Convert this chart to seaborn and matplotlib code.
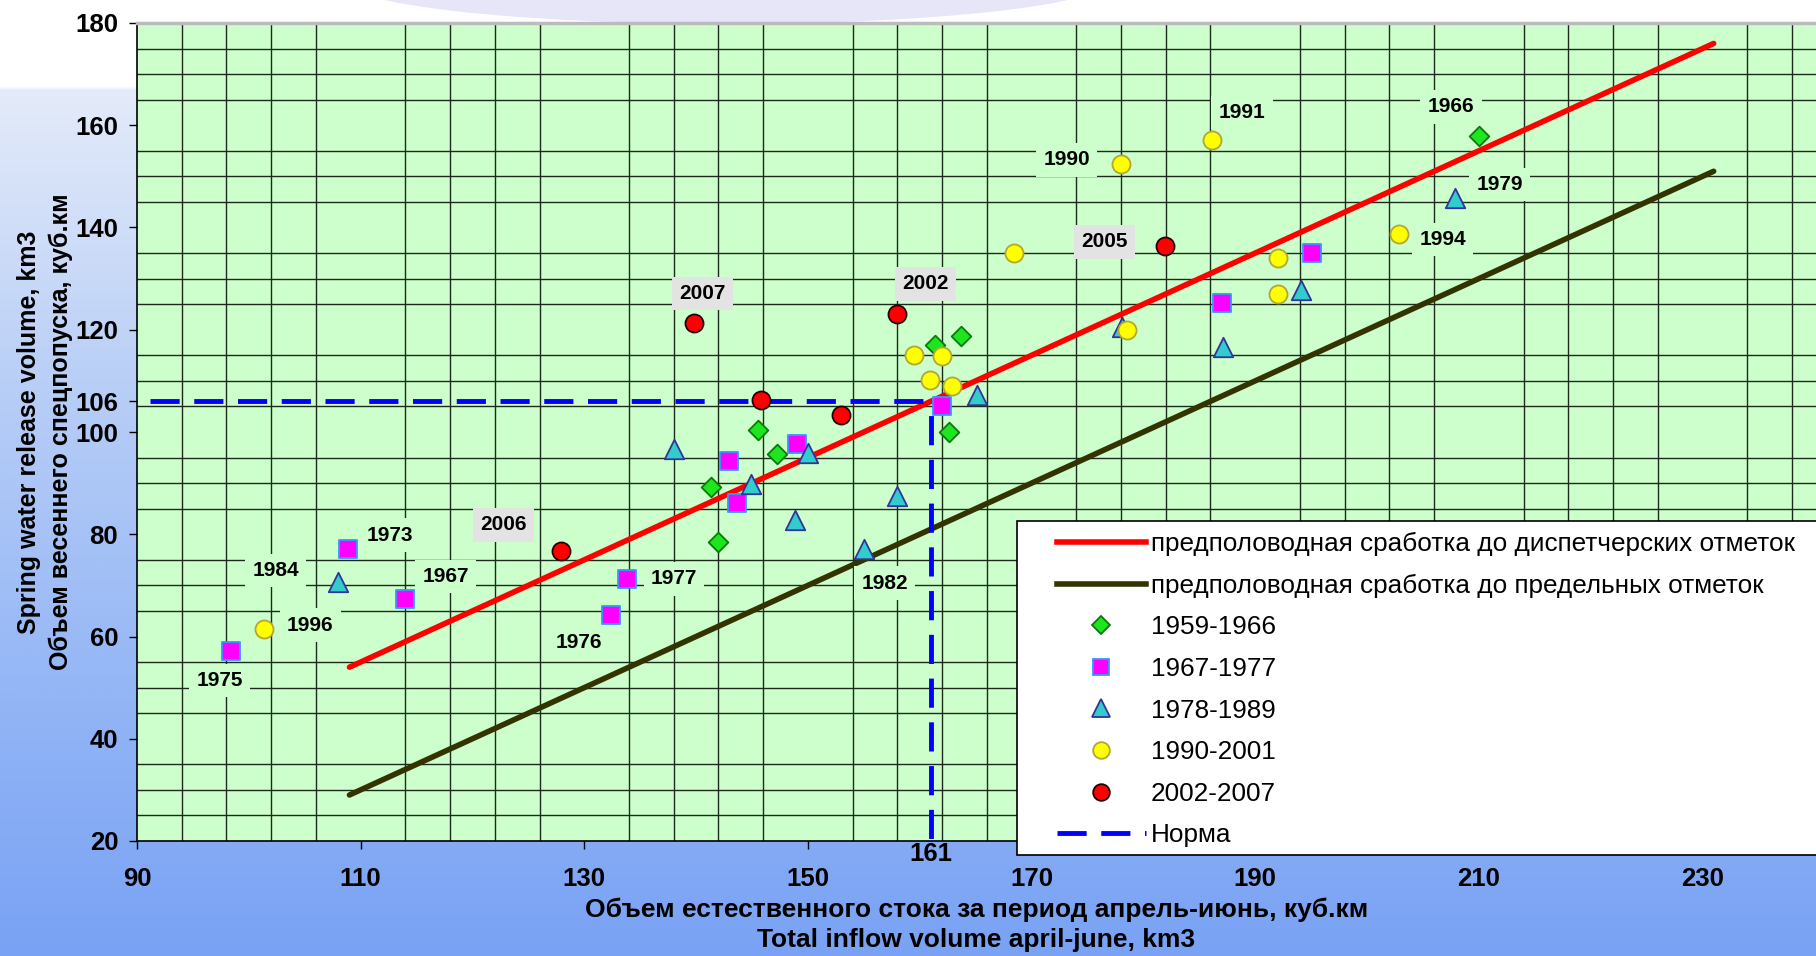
import numpy as np
import matplotlib
matplotlib.use("Agg")
import matplotlib.pyplot as plt
from matplotlib.lines import Line2D
from matplotlib.patches import Rectangle, Ellipse
from matplotlib.colors import to_rgb
import seaborn as sns

plt.rcParams['font.family'] = ['Liberation Sans', 'DejaVu Sans']

# ---- observed points: inflow (x, km3) vs. spring release (y, km3) ----
diam_x = [141.3, 142.0, 145.5, 147.2, 161.4, 162.6, 163.7, 210.0]
diam_y = [89.2, 78.5, 100.4, 95.6, 117.0, 100.0, 118.8, 157.9]
diam_year = ['', '', '', '', '', '', '', '1966']

sq_x = [98.4, 108.9, 114.0, 132.4, 133.8, 142.9, 143.7, 149.0, 162.0, 187.0, 195.1]
sq_y = [57.1, 77.1, 67.4, 64.3, 71.3, 94.4, 86.1, 97.6, 105.0, 125.3, 135.1]
sq_year = ['1975', '1973', '1967', '1976', '1977', '', '', '', '', '', '']

tri_x = [108.0, 138.0, 144.9, 148.8, 150.0, 155.0, 158.0, 165.1, 178.1, 187.1, 194.1, 207.9]
tri_y = [70.7, 96.6, 89.8, 82.7, 95.9, 77.2, 87.4, 107.3, 120.6, 116.7, 127.8, 145.7]
tri_year = ['1984', '', '', '', '', '1982', '', '', '', '', '', '1979']

yel_x = [101.4, 159.5, 160.9, 162.0, 162.9, 168.4, 178.0, 178.5, 186.1, 192.0, 192.0, 202.9]
yel_y = [61.4, 115.1, 110.1, 114.8, 108.9, 135.1, 152.4, 120.0, 157.1, 134.0, 126.9, 138.7]
yel_year = ['1996', '', '', '', '', '', '1990', '', '1991', '', '', '1994']

red_x = [127.9, 139.8, 145.8, 153.0, 158.0, 181.9]
red_y = [76.7, 121.4, 106.3, 103.4, 123.0, 136.4]
red_year = ['2006', '2007', '', '', '2002', '2005']

# ---- regime lines ----
disp_x = [109, 231]
disp_y = [54, 176]
lim_x = [109, 231]
lim_y = [29, 151]

# ---- norm (mean) values ----
norm_inflow = 161
norm_release = 106
norm_start_x = 91.2

xticks = [90, 110, 130, 150, 170, 190, 210, 230]
yticks = [20, 40, 60, 80, 100, 106, 120, 140, 160, 180]

legend_labels = [
    'предполоводная сработка до диспетчерских отметок',
    'предполоводная сработка до предельных отметок',
    '1959-1966', '1967-1977', '1978-1989', '1990-2001', '2002-2007', 'Норма',
]

xlabel = 'Объем естественного стока за период апрель-июнь, куб.км\nTotal inflow volume april-june, km3'
ylabel = 'Spring water release volume, km3\nОбъем весеннего спецпопуска, куб.км'

# label offsets (points) relative to the marker
label_offsets = {
    '1975': (-8, -21), '1996': (33, 3), '1984': (-45, 8), '1973': (30, 10),
    '1967': (29, 16), '2006': (-41, 19), '1976': (-23, -20), '1977': (34, 0),
    '1982': (15, -25), '2007': (6, 21), '2002': (20, 22), '2005': (-43, 3),
    '1990': (-39, 3), '1991': (22, 20), '1966': (-20, 21), '1979': (32, 10),
    '1994': (31, -4),
}

W, H = 1816, 956
fig = plt.figure(figsize=(W / 100, H / 100), dpi=100)

# sky/water-like backdrop
bg = fig.add_axes([0, 0, 1, 1], zorder=-10)
rows = np.arange(H)
stops = [0, 86, 90, 400, 700, H - 1]
cols = [to_rgb('#ffffff'), to_rgb('#ffffff'), to_rgb('#e4ebfa'),
        to_rgb('#b6cdf6'), to_rgb('#93b5f6'), to_rgb('#79a2f4')]
grad = np.stack([np.interp(rows, stops, [c[i] for c in cols]) for i in range(3)], axis=1)
img = np.repeat(grad[:, None, :], 8, axis=1)
bg.imshow(img, aspect='auto', extent=[0, 1, 0, 1])
bg.set_xlim(0, 1)
bg.set_ylim(0, 1)
bg.add_patch(Ellipse((0.40, 1.02), 0.42, 0.09, facecolor='#e6e6f8', edgecolor='none'))
bg.add_patch(Ellipse((0.40, 1.035), 0.36, 0.07, facecolor='#ffffff', edgecolor='none'))
bg.axis('off')

left = 137 / W
bottom = (H - 841) / H
top = (H - 23) / H
ax = fig.add_axes([left, bottom, 1 - left, top - bottom])
ax.set_facecolor('#CCFFCC')
ax.set_xlim(90, 240.15)
ax.set_ylim(20, 180)

# grid
ax.set_xticks(np.arange(90, 241, 4), minor=True)
ax.set_yticks(np.arange(20, 181, 5), minor=True)
ax.set_axisbelow(True)
ax.grid(which='minor', color='#1c2a1c', lw=1.0)
ax.grid(which='major', visible=False)
ax.tick_params(which='minor', length=0)

ax.set_xticks(xticks)
ax.set_yticks(yticks)
ax.tick_params(which='major', direction='out', length=5.5, width=1, color='black',
               labelsize=18.5)
ax.tick_params(axis='x', which='major', pad=13)
ax.tick_params(axis='y', which='major', pad=8)
for lab in ax.get_xticklabels() + ax.get_yticklabels():
    lab.set_fontweight('bold')

for s in ['left', 'bottom']:
    ax.spines[s].set_color('black')
    ax.spines[s].set_linewidth(1.2)
ax.spines['top'].set_color('#bbbbbb')
ax.spines['top'].set_linewidth(2.5)
ax.spines['right'].set_visible(False)

# regime lines
sns.lineplot(x=disp_x, y=disp_y, ax=ax, color='#ff0000', lw=4.0, sort=False,
             estimator=None, legend=False, zorder=3, solid_capstyle='round')
sns.lineplot(x=lim_x, y=lim_y, ax=ax, color='#333300', lw=4.0, sort=False,
             estimator=None, legend=False, zorder=3, solid_capstyle='round')

# norm lines
sns.lineplot(x=[norm_start_x, norm_inflow], y=[norm_release, norm_release], ax=ax,
             color='#0000ff', lw=3.5, linestyle=(0, (6, 3)), sort=False,
             estimator=None, legend=False, zorder=3)
sns.lineplot(x=[norm_inflow, norm_inflow], y=[norm_release, 20], ax=ax,
             color='#0000ff', lw=3.5, linestyle=(6, (6, 3)), sort=False,
             estimator=None, legend=False, zorder=3)

series = [
    (diam_x, diam_y, diam_year, 'D', 10.0, '#1ee61e', '#0a7a0a'),
    (sq_x, sq_y, sq_year, 's', 12.5, '#ff00ff', '#3399ff'),
    (tri_x, tri_y, tri_year, '^', 14.0, '#33cccc', '#333399'),
    (yel_x, yel_y, yel_year, 'o', 13.0, '#ffff00', '#b3a633'),
    (red_x, red_y, red_year, 'o', 13.0, '#ff0000', '#220000'),
]

for xs, ys, yrs, mk, ms, fc, ec in series:
    sns.scatterplot(x=xs, y=ys, ax=ax, marker=mk, s=ms ** 2, color=fc,
                    edgecolor=ec, linewidth=1.3, legend=False, zorder=5)

for xs, ys, yrs, mk, ms, fc, ec in series:
    box_fc = '#e3e3e3' if yrs is red_year else '#CCFFCC'
    for x, y, yr in zip(xs, ys, yrs):
        if not yr:
            continue
        ax.annotate(yr, (x, y), xytext=label_offsets[yr], textcoords='offset points',
                    ha='center', va='center', fontsize=15, fontweight='bold',
                    bbox=dict(boxstyle='square,pad=0.35', fc=box_fc, ec='none'),
                    zorder=6)

# norm inflow value under the axis
ax.annotate(str(norm_inflow), xy=(norm_inflow, 0),
            xycoords=ax.get_xaxis_transform(), xytext=(0, -1),
            textcoords='offset points', ha='center', va='top',
            fontsize=18.5, fontweight='bold')

ax.set_xlabel(xlabel, fontsize=19, fontweight='bold', linespacing=1.3, labelpad=5)
ax.set_ylabel(ylabel, fontsize=18, fontweight='bold', linespacing=1.4, labelpad=1.3)

# legend box
fig.add_artist(Rectangle((1017 / W, (H - 855) / H), 1.0, (855 - 521) / H,
                         transform=fig.transFigure, facecolor='white',
                         edgecolor='black', lw=1.2, zorder=3))

handles = [
    Line2D([], [], color='#ff0000', lw=4.0),
    Line2D([], [], color='#333300', lw=4.0),
]
for xs, ys, yrs, mk, ms, fc, ec in series:
    handles.append(Line2D([], [], linestyle='none', marker=mk, markersize=ms * 0.92,
                          markerfacecolor=fc, markeredgecolor=ec, markeredgewidth=1.3))
handles.append(Line2D([], [], color='#0000ff', lw=3.5, linestyle=(0, (6, 3))))

fig.legend(handles, legend_labels, loc='upper left',
           bbox_to_anchor=(1057 / W, 1 - 532 / H), frameon=False, fontsize=18.8,
           handlelength=3.4, handletextpad=0.2, labelspacing=0.675, borderpad=0,
           borderaxespad=0)

fig.savefig('out.png', dpi=100)
